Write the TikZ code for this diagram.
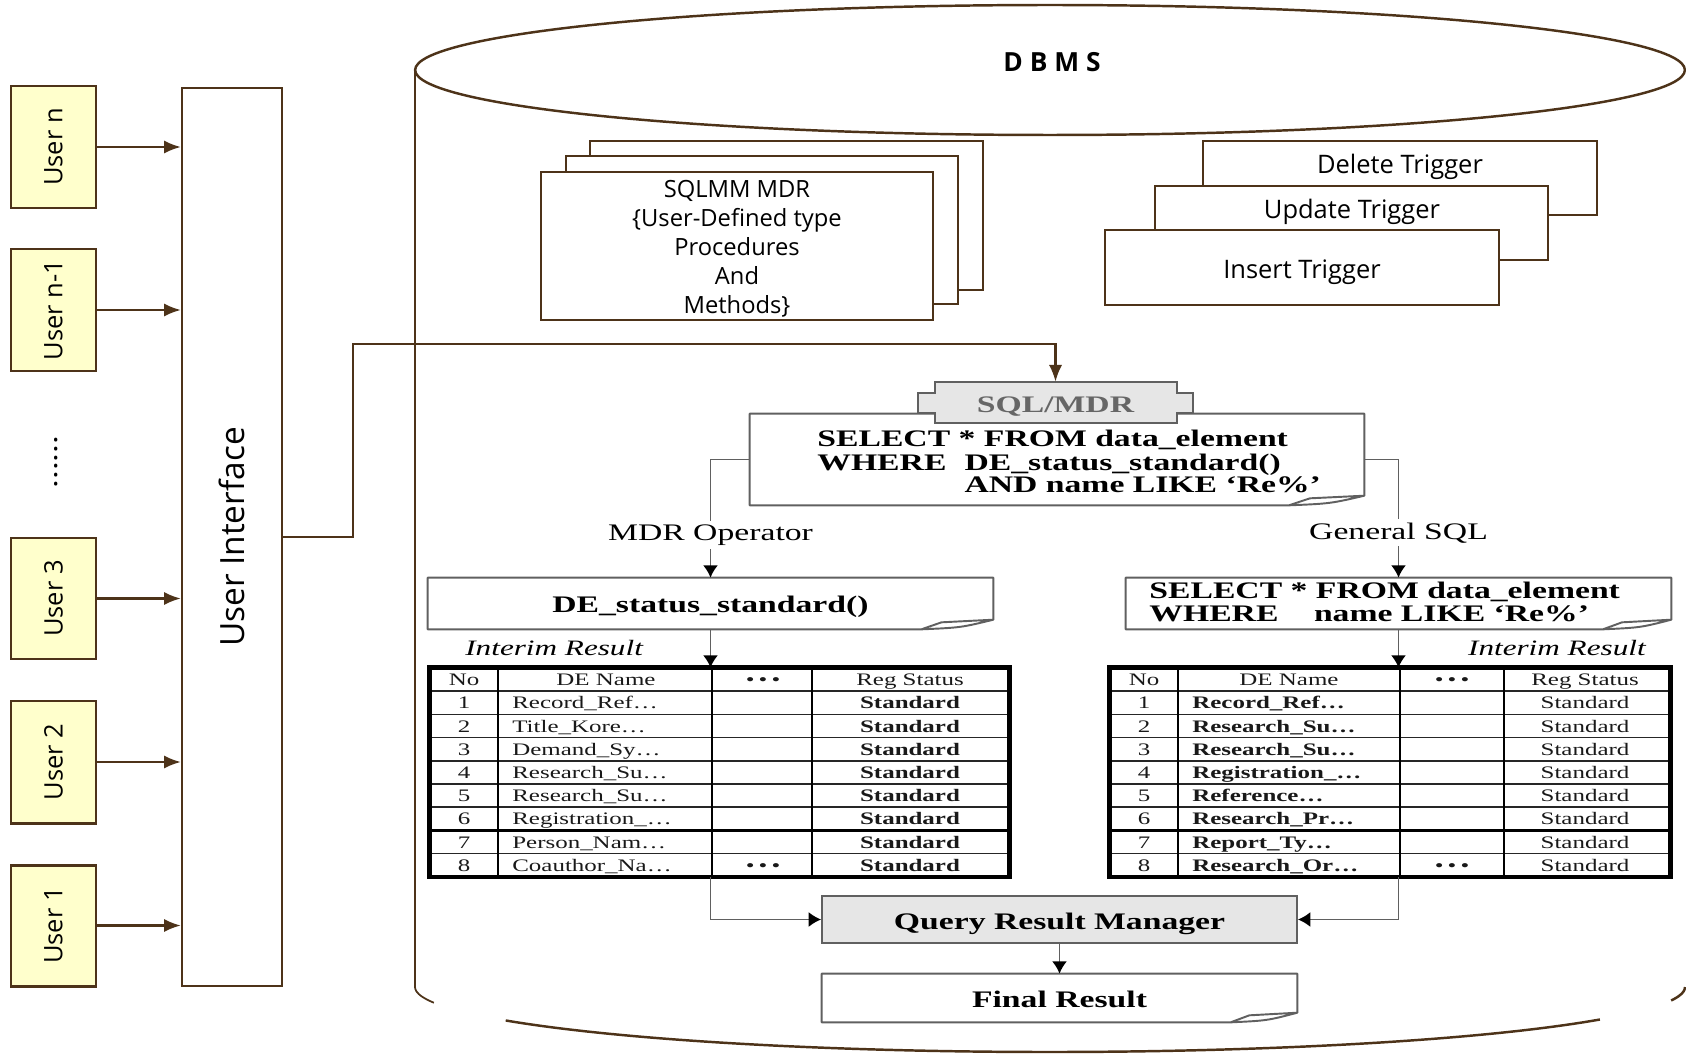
\documentclass[tikz,border=0pt]{standalone}
\usepackage{fontspec}
\setmainfont{Liberation Serif}
\newfontfamily\osans{Open Sans}
\usepackage{graphicx}
\usetikzlibrary{arrows.meta,fit,calc}
\definecolor{brn}{RGB}{77,51,25}
\definecolor{uyel}{RGB}{255,255,204}
\definecolor{gline}{RGB}{96,96,96}
\definecolor{gfill}{RGB}{230,230,230}
\newcommand\sx[1]{\scalebox{1.42}[1]{#1}}
\newcommand\notebox[2]{%
 \draw[gline,line width=1.1pt,line join=round]
   ([xshift=-#2pt]#1.south east) -- (#1.south west) -- (#1.north west) -- (#1.north east) -- ([yshift=5.5pt]#1.south east)
   -- ([xshift=-0.72*#2pt,yshift=4pt]#1.south east) -- ([xshift=-#2pt]#1.south east)
   .. controls ([xshift=-0.45*#2pt,yshift=1pt]#1.south east) .. ([yshift=5.5pt]#1.south east);}
\begin{document}
\begin{tikzpicture}[x=0.02cm,y=-0.02cm,
  bare/.style={inner sep=0pt},
  userbox/.style={draw=brn,line width=1.7pt,fill=uyel,inner sep=0pt},
  uibox/.style={draw=brn,line width=1.4pt,fill=white,inner sep=0pt},
  stackbox/.style={draw=brn,line width=1.4pt,fill=white,inner sep=0pt},
  barrow/.style={draw=brn,line width=1.2pt,-{Latex[length=9.5pt,width=7.5pt]}},
  usertxt/.style={font=\osans\fontsize{14.5}{17}\selectfont,rotate=90,inner sep=0pt},
  sanstxt/.style={font=\osans\fontsize{14.5}{17}\selectfont,inner sep=0pt},
  gbox/.style={draw=gline,line width=1.1pt,inner sep=0pt},
  garrow/.style={draw=gline,line width=1pt,-{Latex[length=7pt,width=8.5pt,color=black]}},
  ser/.style={font=\fontsize{13.5}{12.8}\selectfont,inner sep=0pt},
  tbl/.style={font=\fontsize{10}{12}\selectfont,inner sep=0pt,text=black!90,anchor=base},
  lbl/.style={font=\fontsize{13.5}{15}\selectfont,fill=white,inner sep=2pt},
  tline/.style={black!85,line width=0.9pt}
]
\useasboundingbox (0,0) rectangle (1686,1057);

% ---------- DBMS cylinder ----------
\draw[brn,line width=1.4pt] (1050,70) ellipse [x radius=12.7cm, y radius=1.3cm];
\draw[brn,line width=1pt] (415,70) -- plot[domain=180:166,samples=10] ({1050+635*cos(\x)},{987+65*sin(\x)});
\draw[brn,line width=1.4pt] plot[domain=149:30,samples=80] ({1050+635*cos(\x)},{987+65*sin(\x)});
\draw[brn,line width=1.4pt] plot[domain=12:0,samples=10] ({1050+635*cos(\x)},{987+65*sin(\x)});
\node[font=\osans\bfseries\fontsize{15}{18}\selectfont] (dbms) at (1052,62) {D B M S};

% ---------- Users ----------
\node[userbox, fit={(11,86)(96,208)}] (un) {};
\node[usertxt] (unt) at (un.center) {User n};
\node[userbox, fit={(11,249)(96,371)}] (un1) {};
\node[usertxt] (un1t) at (un1.center) {User n-1};
\node[usertxt] (udots) at (56,462) {\scalebox{1.3}[1]{......}};
\node[userbox, fit={(11,538)(96,659)}] (u3) {};
\node[usertxt] (u3t) at (u3.center) {User 3};
\node[userbox, fit={(11,701)(96,823)}] (u2) {};
\node[usertxt] (u2t) at (u2.center) {User 2};
\node[userbox, fit={(11,865)(96,986)}] (u1) {};
\node[usertxt] (u1t) at (u1.center) {User 1};

\node[uibox, fit={(182,88)(282,986)}] (ui) {};
\node[usertxt, font=\osans\fontsize{19}{22}\selectfont] (uit) at (ui.center) {User Interface};
\foreach \u in {un,un1,u3,u2,u1} \draw[barrow] (\u.east) -- (\u.east -| ui.west);

% ---------- SQLMM MDR stack ----------
\node[stackbox, fit={(590,141)(983,290)}] (mm3) {};
\node[stackbox, fit={(566,156)(958,304)}] (mm2) {};
\node[stackbox, fit={(541,172)(933,320)}] (mm1) {};
\node[font=\osans\fontsize{13.5}{16.5}\selectfont, align=center, bare] (mm1t) at ([yshift=-1.5pt]mm1.center)
  {SQLMM MDR\\\{User-Defined type\\Procedures\\And\\Methods\}};

% ---------- Triggers ----------
\node[stackbox, line width=1.2pt, fit={(1203,141)(1597,215)}] (trd) {};
\node[sanstxt] (trdt) at (1400,167) {Delete Trigger};
\node[stackbox, line width=1.2pt, fit={(1155,186)(1548,260)}] (tru) {};
\node[sanstxt] (trut) at (1352,212) {Update Trigger};
\node[stackbox, line width=1.2pt, fit={(1105,230)(1499,305)}] (tri) {};
\node[sanstxt] (trit) at ([yshift=-2.5pt]tri.center) {Insert Trigger};

% ---------- SQL/MDR query ----------
\node[bare, fit={(750,414)(1364,505)}] (sql) {};
\notebox{sql}{43}
\node[ser, anchor=west] (sqlt) at (817,465) {\sx{\bfseries\begin{tabular}{@{}l@{}}SELECT * FROM data\_element\\ \makebox[59pt][l]{WHERE}DE\_status\_standard()\\ \hspace*{59pt}AND name LIKE ‘Re\%’\end{tabular}}};
\filldraw[fill=gfill,draw=gline,line width=1.1pt]
  (935,382) -- (1177,382) -- (1177,393) -- (1193,393) -- (1193,413) -- (1177,413) -- (1177,423)
  -- (935,423) -- (935,413) -- (918,413) -- (918,393) -- (935,393) -- cycle;
\node[bare, fit={(918,382)(1193,423)}] (tab) {};
\node[ser, text=black!60] (tabt) at ([yshift=-2.2pt]tab.center) {\sx{\bfseries SQL/MDR}};
\draw[barrow] (ui.east) -| (353,344) -| (tab.north);

% ---------- branches ----------
\node[bare, fit={(428,578)(993,629)}] (de) {};
\notebox{de}{41}
\node[ser] (det) at ([yshift=-1.8pt]de.center) {\sx{\bfseries DE\_status\_standard()}};
\node[bare, fit={(1126,578)(1671,629)}] (sel) {};
\notebox{sel}{39}
\node[ser, anchor=west] (selt) at (1149,605) {\sx{\bfseries\begin{tabular}{@{}l@{}}SELECT * FROM data\_element\\ \makebox[66pt][l]{WHERE}name LIKE ‘Re\%’\end{tabular}}};

\draw[garrow] (sql.west) -| node[lbl,pos=0.82] (mdrop) {\sx{MDR Operator}} (de.north);
\draw[garrow] (sql.east) -| node[lbl,pos=0.81] (gensql) {\sx{General SQL}} (sel.north);

% ---------- left table ----------
\node[bare, fit={(430,668)(1009,876.8)}] (tabL) {};
\foreach \k in {1,...,8} \draw[tline] (430,{668+23.2*\k}) -- (1009,{668+23.2*\k});
\draw[black,line width=1.7pt] (430,830.4) -- (1009,830.4);
\foreach \c in {498,712,812} \draw[black,line width=1.3pt] (\c,668) -- (\c,876.8);
\draw[black,line width=2.6pt] (tabL.north west) rectangle (tabL.south east);
\node[tbl] (Lh1) at (464,685.6) {\sx{No}};
\node[tbl] (Lh2) at (606,685.6) {\sx{DE Name}};
\node[tbl] (Lh3) at (763,685.6) {\sx{\textbullet\,\textbullet\,\textbullet}};
\node[tbl] (Lh4) at (910,685.6) {\sx{Reg Status}};
\foreach \i/\nm in {1/Record\_Ref\ldots,2/Title\_Kore\ldots,3/Demand\_Sy\ldots,4/Research\_Su\ldots,5/Research\_Su\ldots,6/Registration\_\ldots,7/Person\_Nam\ldots,8/Coauthor\_Na\ldots}{
  \node[tbl] (Ln\i) at (464,{685.6+23.2*\i}) {\sx{\i}};
  \node[tbl,anchor=base west] (Ld\i) at (512,{685.6+23.2*\i}) {\sx{\nm}};
  \node[tbl] (Ls\i) at (910,{685.6+23.2*\i}) {\sx{\bfseries Standard}};
}
\node[tbl] (Lx8) at (763,871.2) {\sx{\textbullet\,\textbullet\,\textbullet}};

% ---------- right table ----------
\node[bare, fit={(1110,668)(1670,876.8)}] (tabR) {};
\foreach \k in {1,...,8} \draw[tline] (1110,{668+23.2*\k}) -- (1670,{668+23.2*\k});
\draw[black,line width=1.7pt] (1110,830.4) -- (1670,830.4);
\foreach \c in {1178,1400,1504} \draw[black,line width=1.3pt] (\c,668) -- (\c,876.8);
\draw[black,line width=2.6pt] (tabR.north west) rectangle (tabR.south east);
\node[tbl] (Rh1) at (1144,685.6) {\sx{No}};
\node[tbl] (Rh2) at (1289,685.6) {\sx{DE Name}};
\node[tbl] (Rh3) at (1452,685.6) {\sx{\textbullet\,\textbullet\,\textbullet}};
\node[tbl] (Rh4) at (1585,685.6) {\sx{Reg Status}};
\foreach \i/\nm in {1/Record\_Ref\ldots,2/Research\_Su\ldots,3/Research\_Su\ldots,4/Registration\_\ldots,5/Reference\ldots,6/Research\_Pr\ldots,7/Report\_Ty\ldots,8/Research\_Or\ldots}{
  \node[tbl] (Rn\i) at (1144,{685.6+23.2*\i}) {\sx{\i}};
  \node[tbl,anchor=base west] (Rd\i) at (1192,{685.6+23.2*\i}) {\sx{\bfseries\nm}};
  \node[tbl] (Rs\i) at (1585,{685.6+23.2*\i}) {\sx{Standard}};
}
\node[tbl] (Rx8) at (1452,871.2) {\sx{\textbullet\,\textbullet\,\textbullet}};

\draw[garrow] (de.south) -- (de.south |- tabL.north);
\draw[garrow] (sel.south) -- (sel.south |- tabR.north);
\node[font=\fontsize{12.5}{14}\selectfont\itshape, bare, anchor=west] (irL) at (465,648) {\sx{Interim Result}};
\node[font=\fontsize{12.5}{14}\selectfont\itshape, bare, anchor=east] (irR) at (1646,648) {\sx{Interim Result}};

% ---------- results ----------
\node[gbox, fill=gfill, fit={(822,896)(1297,943)}] (qrm) {};
\node[ser] (qrmt) at ([yshift=-2.4pt]qrm.center) {\sx{\bfseries Query Result Manager}};
\draw[garrow] (de.south |- tabL.south) |- (qrm.west);
\draw[garrow] (sel.south |- tabR.south) |- (qrm.east);
\node[bare, fit={(822,974)(1297,1022)}] (fin) {};
\notebox{fin}{38}
\node[ser] (fint) at ([yshift=-0.6pt]fin.center) {\sx{\bfseries Final Result}};
\draw[garrow] (qrm.south) -- (fin.north);
\end{tikzpicture}
\end{document}
